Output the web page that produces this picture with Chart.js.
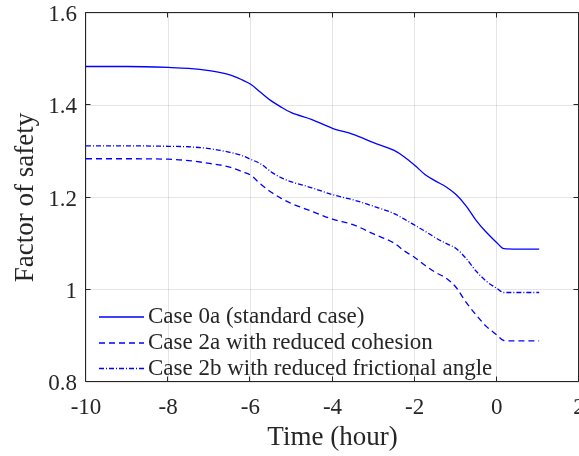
<!DOCTYPE html>
<html>
<head>
<meta charset="utf-8">
<script src="https://cdn.jsdelivr.net/npm/chart.js@4/dist/chart.umd.min.js"></script>
<style>
  html, body { margin: 0; padding: 0; background: #fff; }
  #wrap { width: 579px; height: 456px; }
</style>
</head>
<body>
<div id="wrap"><canvas id="fosChart" width="579" height="456"></canvas></div>
<script>
// time before/after failure (hours)
const timeHours = [-10, -9, -8, -7.5, -7, -6.5, -6.2, -6, -5.75, -5.5, -5.25, -5, -4.5, -4, -3.5,
  -3, -2.5, -2.25, -2, -1.75, -1.5, -1.25, -1, -0.75, -0.5, -0.25, 0, 0.17, 0.5, 1.03];

// factor of safety for each case
const case0a = [1.484, 1.484, 1.482, 1.480, 1.475, 1.466, 1.455, 1.446, 1.428, 1.410, 1.396, 1.384, 1.369, 1.350, 1.337,
  1.319, 1.302, 1.288, 1.270, 1.250, 1.236, 1.224, 1.207, 1.182, 1.150, 1.124, 1.102, 1.089, 1.088, 1.088];
const case2a = [1.284, 1.284, 1.283, 1.280, 1.274, 1.266, 1.256, 1.249, 1.229, 1.212, 1.198, 1.187, 1.170, 1.153, 1.141,
  1.121, 1.101, 1.084, 1.070, 1.053, 1.038, 1.026, 1.006, 0.973, 0.945, 0.920, 0.902, 0.890, 0.889, 0.889];
const case2b = [1.312, 1.312, 1.311, 1.310, 1.306, 1.298, 1.291, 1.283, 1.273, 1.256, 1.243, 1.234, 1.221, 1.206, 1.195,
  1.181, 1.165, 1.153, 1.140, 1.127, 1.113, 1.101, 1.090, 1.068, 1.040, 1.018, 1.003, 0.994, 0.994, 0.994];

const seriesLabels = ['Case 0a (standard case)', 'Case 2a with reduced cohesion', 'Case 2b with reduced frictional angle'];
const xTicks = [-10, -8, -6, -4, -2, 0, 2];
const yTicks = [0.8, 1, 1.2, 1.4, 1.6];

const serif = '"Liberation Serif", "Times New Roman", serif';
const ink = '#262626';
const blue = '#0000ff';

function toPoints(vals) {
  return timeHours.map((t, i) => ({ x: t, y: vals[i] }));
}

// keep the axes from reserving room for overhanging labels
function noOverhang(scale) {
  scale.paddingLeft = 0;
  scale.paddingRight = 0;
  scale.paddingTop = 0;
  scale.paddingBottom = 0;
}

// box around the plot with inward ticks on all four sides
const boxPlugin = {
  id: 'matlabBox',
  afterDatasetsDraw(chart) {
    const { ctx, chartArea: a, scales: { x, y } } = chart;
    const L = Math.round(a.left) - 0.5, R = Math.round(a.right) - 0.5;
    const T = Math.round(a.top) - 0.5, B = Math.round(a.bottom) - 0.5;
    ctx.save();
    ctx.strokeStyle = ink;
    ctx.lineWidth = 1;
    ctx.beginPath();
    ctx.moveTo(L, T); ctx.lineTo(R, T); ctx.lineTo(R, B); ctx.lineTo(L, B); ctx.closePath();
    const len = 5;
    xTicks.forEach(v => {
      const px = Math.round(x.getPixelForValue(v)) - 0.5;
      ctx.moveTo(px, B); ctx.lineTo(px, B - len);
      ctx.moveTo(px, T); ctx.lineTo(px, T + len);
    });
    yTicks.forEach(v => {
      const py = Math.round(y.getPixelForValue(v)) - 0.5;
      ctx.moveTo(L, py); ctx.lineTo(L + len, py);
      ctx.moveTo(R, py); ctx.lineTo(R - len, py);
    });
    ctx.stroke();
    ctx.restore();
  }
};

// legend inside the axes, no frame
const legendPlugin = {
  id: 'innerLegend',
  afterDraw(chart) {
    const { ctx } = chart;
    const x0 = 99, x1 = 144, tx = 148;
    const rows = [317, 343, 368.5];
    ctx.save();
    ctx.font = '23px ' + serif;
    ctx.textBaseline = 'middle';
    ctx.fillStyle = ink;
    chart.data.datasets.forEach((ds, i) => {
      ctx.strokeStyle = ds.borderColor;
      ctx.lineWidth = ds.borderWidth;
      ctx.setLineDash(ds.borderDash || []);
      ctx.beginPath();
      ctx.moveTo(x0, rows[i]);
      ctx.lineTo(x1, rows[i]);
      ctx.stroke();
      ctx.setLineDash([]);
      ctx.fillText(ds.label, tx, rows[i]);
    });
    ctx.restore();
  }
};

new Chart(document.getElementById('fosChart'), {
  type: 'line',
  data: {
    datasets: [
      { label: seriesLabels[0], data: toPoints(case0a), borderColor: blue, borderWidth: 1.3, borderDash: [] },
      { label: seriesLabels[1], data: toPoints(case2a), borderColor: blue, borderWidth: 1.3, borderDash: [6, 4] },
      { label: seriesLabels[2], data: toPoints(case2b), borderColor: blue, borderWidth: 1.3, borderDash: [5, 2, 1, 2] }
    ]
  },
  options: {
    responsive: false,
    animation: false,
    devicePixelRatio: 1,
    layout: { padding: { top: 13, right: 0, bottom: 0, left: 0 } },
    elements: {
      point: { radius: 0 },
      line: { cubicInterpolationMode: 'monotone', fill: false }
    },
    plugins: {
      legend: { display: false },
      tooltip: { enabled: false }
    },
    scales: {
      x: {
        type: 'linear',
        min: -10,
        max: 2,
        afterFit(scale) { scale.height = 74; noOverhang(scale); },
        afterBuildTicks(scale) { scale.ticks = xTicks.map(v => ({ value: v })); },
        ticks: { color: ink, font: { family: serif, size: 23 }, padding: 12, maxRotation: 0 },
        grid: { color: 'rgba(38,38,38,0.12)', drawTicks: false },
        border: { display: false },
        title: {
          display: true,
          text: 'Time (hour)',
          color: ink,
          font: { family: serif, size: 27 },
          padding: { top: 0, bottom: 2 }
        }
      },
      y: {
        min: 0.8,
        max: 1.6,
        afterFit(scale) { scale.width = 86; noOverhang(scale); },
        afterBuildTicks(scale) { scale.ticks = yTicks.map(v => ({ value: v })); },
        ticks: {
          color: ink,
          font: { family: serif, size: 23 },
          padding: 9,
          labelOffset: 2,
          callback: v => String(v)
        },
        grid: { color: 'rgba(38,38,38,0.12)', drawTicks: false },
        border: { display: false },
        title: {
          display: true,
          text: 'Factor of safety',
          color: ink,
          font: { family: serif, size: 27 },
          padding: { top: 10, bottom: 0 }
        }
      }
    }
  },
  plugins: [boxPlugin, legendPlugin]
});
</script>
</body>
</html>
